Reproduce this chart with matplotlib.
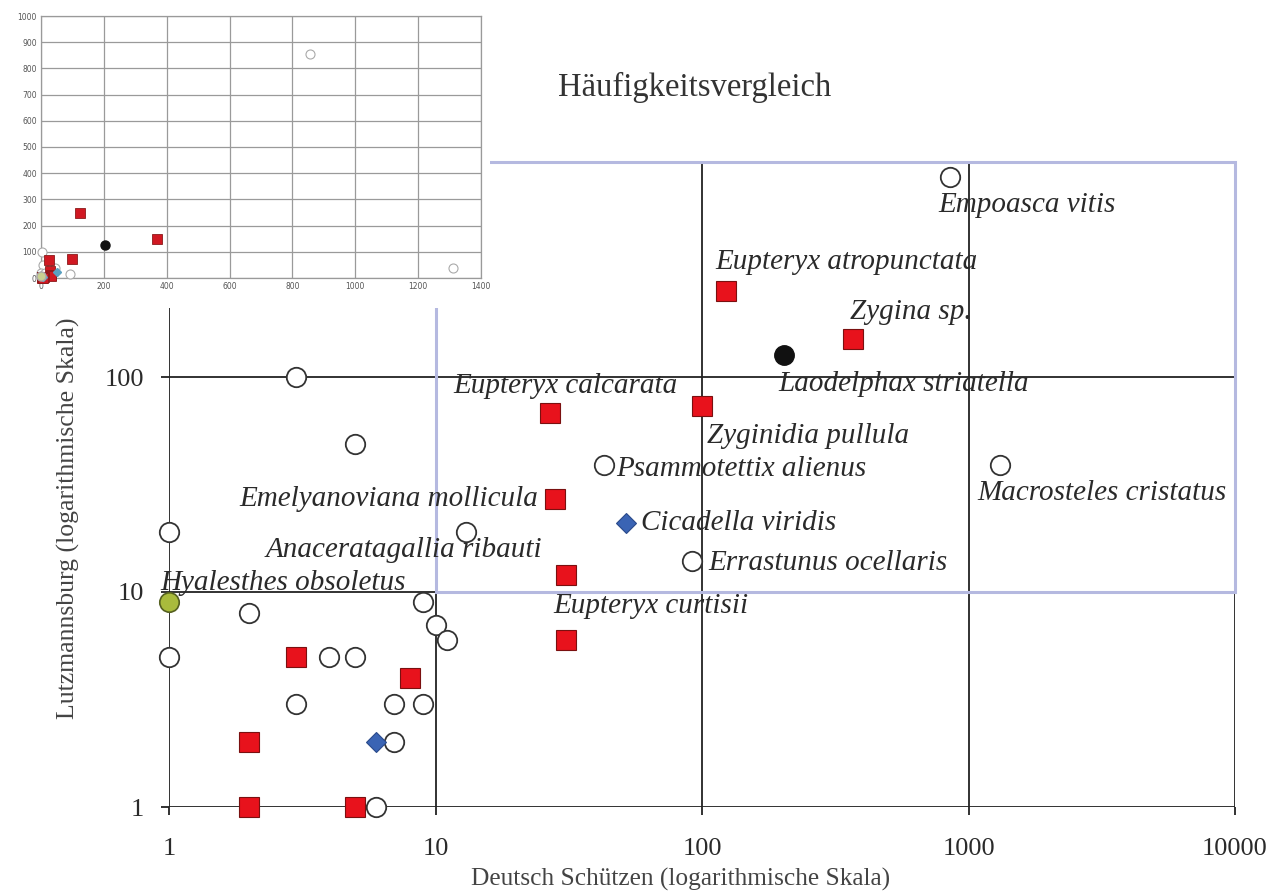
import matplotlib
matplotlib.use("Agg")
import matplotlib.pyplot as plt
from matplotlib.patches import Rectangle

# ---------------- data ----------------
# open circles (other species)
circle_x = [3, 5, 1, 1, 2, 4, 5, 3, 7, 9, 7, 6, 9, 10, 11, 13, 43, 92, 855, 1310]
circle_y = [100, 49, 19, 5, 8, 5, 5, 3, 3, 3, 2, 1, 9, 7, 6, 19, 39, 14, 855, 39]
# red squares (Typhlocybinae)
square_x = [123, 370, 27, 100, 28, 31, 31, 3, 8, 2, 2, 5]
square_y = [250, 150, 68, 73, 27, 12, 6, 5, 4, 2, 1, 1]
# black dot
black_x = [203]
black_y = [127]
# blue diamonds
diamond_x = [52, 6]
diamond_y = [21, 2]
# green dot
green_x = [1]
green_y = [9]

# species labels: (name, group, index)
labels = [
    ("Empoasca vitis", "circle", 18),
    ("Eupteryx atropunctata", "square", 0),
    ("Zygina sp.", "square", 1),
    ("Laodelphax striatella", "black", 0),
    ("Eupteryx calcarata", "square", 2),
    ("Zyginidia pullula", "square", 3),
    ("Psammotettix alienus", "circle", 16),
    ("Macrosteles cristatus", "circle", 19),
    ("Emelyanoviana mollicula", "square", 4),
    ("Cicadella viridis", "diamond", 0),
    ("Anaceratagallia ribauti", "circle", 15),
    ("Errastunus ocellaris", "circle", 17),
    ("Hyalesthes obsoletus", "green", 0),
    ("Eupteryx curtisii", "square", 5),
]

x_ticks = [1, 10, 100, 1000, 10000]
y_ticks = [1, 10, 100]
inset_x_ticks = [0, 200, 400, 600, 800, 1000, 1200, 1400]
inset_y_ticks = [0, 100, 200, 300, 400, 500, 600, 700, 800, 900, 1000]

title = "Häufigkeitsvergleich"
xlabel = "Deutsch Schützen (logarithmische Skala)"
ylabel = "Lutzmannsburg (logarithmische Skala)"

# ---------------- layout / style ----------------
W, H = 1273, 893
SERIF = ["Liberation Serif", "DejaVu Serif"]
TXT = "#2a2a2a"
RED, REDEDGE = "#e8121c", "#7a1010"
BLUE = "#3a64b4"
GREEN = "#a9bb3c"
LAV = "#b5b9e0"

# label offsets in points (dx, dy, ha)
label_layout = {
    "Empoasca vitis": (-8.6, -20.2, "left"),
    "Eupteryx atropunctata": (-7.9, 20.9, "left"),
    "Zygina sp.": (-2.2, 19.4, "left"),
    "Laodelphax striatella": (-4.3, -20.9, "left"),
    "Eupteryx calcarata": (-69.8, 19.4, "left"),
    "Zyginidia pullula": (3.6, -21.6, "left"),
    "Psammotettix alienus": (8.6, -2.9, "left"),
    "Macrosteles cristatus": (-15.8, -20.2, "left"),
    "Emelyanoviana mollicula": (-11.5, 0.0, "right"),
    "Cicadella viridis": (10.8, 0.0, "left"),
    "Anaceratagallia ribauti": (54.7, -13.0, "right"),
    "Errastunus ocellaris": (11.5, -2.0, "left"),
    "Hyalesthes obsoletus": (-6.5, 13.7, "left"),
    "Eupteryx curtisii": (-9.4, -22.3, "left"),
}

fig = plt.figure(figsize=(W / 100, H / 100), dpi=100)
fig.patch.set_facecolor("white")

def px(x0, y0, x1, y1):
    return [x0 / W, 1 - y1 / H, (x1 - x0) / W, (y1 - y0) / H]

ax = fig.add_axes(px(169, 162, 1235, 807))
ax.set_xscale("log")
ax.set_yscale("log")
ax.set_xlim(1, 10000)
ax.set_ylim(1, 1000)
for s in ax.spines.values():
    s.set_visible(False)
ax.set_xticks(x_ticks)
ax.set_xticklabels([str(v) for v in x_ticks])
ax.set_yticks(y_ticks + [1000])
ax.set_yticklabels([str(v) for v in y_ticks] + [""])
ax.minorticks_off()
ax.tick_params(axis="both", which="major", length=6, width=1.3, color="#222222",
               labelsize=19, labelcolor=TXT)
ax.tick_params(axis="x", pad=16)
ax.tick_params(axis="y", pad=12)
for lab in ax.get_xticklabels() + ax.get_yticklabels():
    lab.set_family(SERIF)
ax.grid(True, which="major", color="#222222", linewidth=1.3, zorder=1)
ax.set_axisbelow(True)

# highlighted region
ax.add_patch(Rectangle((10, 10), 10000 - 10, 1000 - 10, fill=False,
                       edgecolor=LAV, linewidth=2.2, zorder=2, clip_on=False))

ms = 14
ax.plot(circle_x, circle_y, "o", ms=ms, mfc="white", mec="#333333", mew=1.3,
        ls="none", zorder=4, clip_on=False)
ax.plot(square_x, square_y, "s", ms=ms, mfc=RED, mec=REDEDGE, mew=0.8,
        ls="none", zorder=5, clip_on=False)
ax.plot(black_x, black_y, "o", ms=ms, mfc="#111111", mec="#111111",
        ls="none", zorder=5)
ax.plot(diamond_x, diamond_y, "D", ms=10.5, mfc=BLUE, mec="#2a4a8a", mew=0.8,
        ls="none", zorder=5)
ax.plot(green_x, green_y, "o", ms=ms, mfc=GREEN, mec="#556020", mew=1.2,
        ls="none", zorder=6, clip_on=False)

groups = {
    "circle": (circle_x, circle_y),
    "square": (square_x, square_y),
    "black": (black_x, black_y),
    "diamond": (diamond_x, diamond_y),
    "green": (green_x, green_y),
}
for name, grp, i in labels:
    gx, gy = groups[grp]
    dx, dy, ha = label_layout[name]
    ax.annotate(name, xy=(gx[i], gy[i]), xytext=(dx, dy), textcoords="offset points",
                ha=ha, va="center", fontsize=21, style="italic", family=SERIF,
                color=TXT, zorder=7, annotation_clip=False)

fig.text(695 / W, 1 - 87 / H, title, ha="center", va="center", fontsize=23.5,
         family=SERIF, color="#333333")
fig.text(681 / W, 1 - 879 / H, xlabel, ha="center", va="center", fontsize=18.3,
         family=SERIF, color="#444444")
fig.text(68 / W, 1 - 518 / H, ylabel, ha="center", va="center", fontsize=18.5,
         family=SERIF, color="#444444", rotation=90)

# ---------------- inset (linear) ----------------
fig.patches.append(Rectangle((0, 1 - 308 / H), 490 / W, 308 / H,
                             transform=fig.transFigure, facecolor="white",
                             edgecolor="none", zorder=2.5))
axi = fig.add_axes(px(41, 16, 481, 278))
axi.set_zorder(3)
axi.set_xlim(0, 1400)
axi.set_ylim(0, 1000)
axi.set_xticks(inset_x_ticks)
axi.set_yticks(inset_y_ticks)
axi.tick_params(length=0, labelsize=5.5, labelcolor="#555555", pad=3)
axi.grid(True, color="#9a9a9a", linewidth=0.9)
axi.set_axisbelow(True)
for s in axi.spines.values():
    s.set_color("#9a9a9a")
    s.set_linewidth(0.9)
ims = 6.5
axi.plot(circle_x, circle_y, "o", ms=ims, mfc="white", mec="#aaaaaa", mew=0.8,
         ls="none", zorder=4, clip_on=False)
axi.plot(square_x, square_y, "s", ms=ims, mfc="#d01822", mec="#8a1a1a", mew=0.6,
         ls="none", zorder=5, clip_on=False)
axi.plot(black_x, black_y, "o", ms=ims, mfc="#111111", mec="#111111",
         ls="none", zorder=5)
axi.plot(diamond_x, diamond_y, "D", ms=4.5, mfc="#5aa0c0", mec="#5aa0c0",
         ls="none", zorder=5, clip_on=False)
axi.plot(green_x, green_y, "o", ms=ims, mfc="#c9d090", mec="#aaaaaa",
         ls="none", zorder=5, clip_on=False)

fig.savefig("out.png", dpi=100, facecolor="white")
